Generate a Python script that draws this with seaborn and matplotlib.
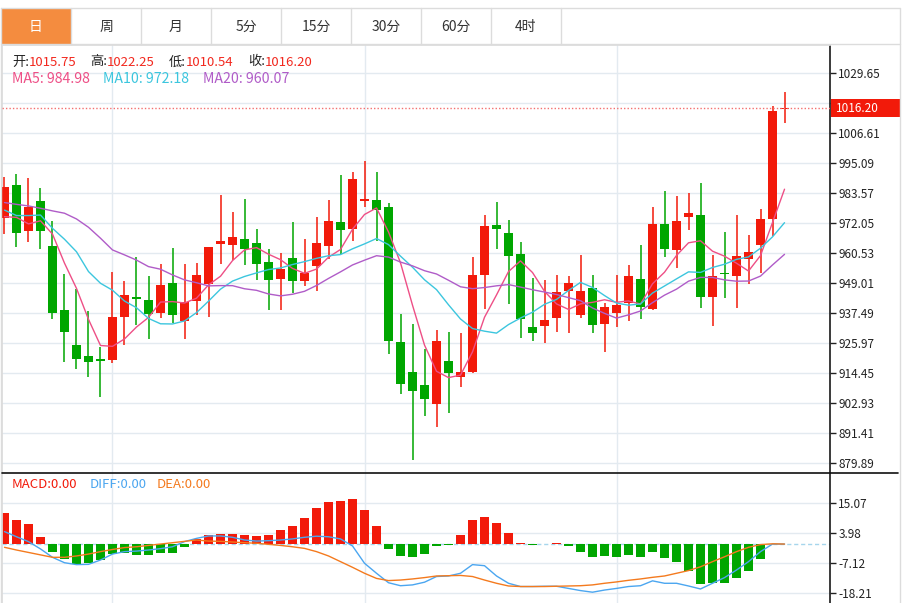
import numpy as np
import pandas as pd
import matplotlib
matplotlib.use('Agg')
import matplotlib.pyplot as plt
import matplotlib.transforms as mtransforms
from matplotlib.patches import Rectangle
import seaborn as sns

# daily candles (left -> right)
opens = [973.8, 986.8, 969.1, 980.5, 963.2, 938.5, 925.1, 921.0, 919.8, 919.4,
         936.1, 943.6, 942.4, 937.4, 949.0, 934.5, 942.2, 948.5, 964.1, 963.6,
         965.8, 964.2, 956.9, 950.7, 958.5, 949.9, 955.7, 963.3, 972.3, 969.9,
         980.6, 980.9, 978.1, 926.2, 915.0, 909.7, 902.7, 918.9, 912.8, 915.0,
         951.9, 971.1, 968.1, 960.0, 932.2, 932.5, 935.6, 945.8, 936.7, 947.0,
         933.1, 937.6, 941.2, 950.4, 939.2, 971.5, 961.7, 974.2, 975.0, 943.8,
         952.5, 951.7, 958.2, 963.7, 973.5, 1015.75]
highs = [989.6, 990.7, 989.2, 985.4, 973.0, 952.5, 946.6, 938.4, 924.3, 953.2,
         949.8, 959.0, 951.8, 956.3, 962.3, 956.3, 956.7, 963.0, 982.8, 976.4,
         981.4, 969.6, 962.1, 960.4, 972.3, 965.8, 974.5, 981.0, 990.5, 991.6,
         995.7, 991.6, 979.6, 937.2, 933.3, 923.5, 931.0, 930.3, 929.8, 958.9,
         975.1, 980.0, 973.2, 964.7, 950.8, 950.3, 952.0, 951.6, 959.8, 952.1,
         941.5, 952.1, 955.9, 963.7, 978.2, 984.3, 982.6, 983.4, 987.3, 959.8,
         968.7, 975.1, 967.4, 977.3, 1017.0, 1022.25]
lows = [967.8, 963.0, 964.6, 961.9, 935.3, 918.7, 915.9, 913.0, 905.4, 918.2,
        925.1, 932.8, 927.4, 935.4, 933.8, 927.6, 936.7, 936.1, 956.3, 957.9,
        956.0, 950.2, 938.6, 938.6, 945.3, 947.9, 946.1, 958.1, 960.0, 965.3,
        978.3, 965.3, 921.6, 906.5, 881.0, 898.1, 893.6, 899.0, 909.2, 914.6,
        939.0, 962.1, 941.0, 928.0, 926.9, 925.8, 930.3, 929.7, 935.7, 929.7,
        922.4, 932.2, 934.5, 935.1, 938.6, 959.1, 954.6, 969.4, 939.3, 932.5,
        943.1, 939.5, 948.5, 953.0, 967.1, 1010.54]
closes = [986.0, 968.3, 978.1, 969.1, 937.4, 930.2, 919.8, 918.7, 918.9, 935.8,
          944.4, 942.7, 937.1, 948.4, 936.7, 941.7, 951.9, 962.7, 965.0, 966.7,
          962.2, 956.4, 950.0, 954.5, 949.9, 952.8, 964.5, 972.8, 969.4, 988.8,
          981.1, 977.0, 926.7, 910.1, 907.5, 904.5, 926.7, 914.6, 914.8, 952.2,
          970.9, 969.6, 959.5, 935.3, 929.8, 934.8, 945.5, 948.9, 945.9, 932.8,
          939.7, 940.7, 951.5, 939.9, 971.7, 961.9, 972.9, 975.8, 943.8, 951.7,
          952.3, 959.4, 960.8, 973.5, 1015.2, 1016.20]

# moving averages at the left edge (history before the window is not shown)
ma5_head = [974.5, 974.2, 971.7, 972.9]
ma10_head = [977.0, 974.9, 974.9, 975.1, 970.0, 965.8, 961.0, 953.4, 948.9]
ma20_head = [979.9, 979.2, 978.6, 977.7, 976.7, 975.8, 973.6, 970.4, 966.2, 961.7,
             959.8, 957.8, 955.3, 954.3, 952.1, 950.2, 949.1, 947.9, 948.0]
# values printed in the header
ma_names = ['MA5', 'MA10', 'MA20']
ma_latest = [984.98, 972.18, 960.07]

# MACD panel
macd_hist = [11.6, 8.9, 7.5, 2.7, -3.05, -5.4, -7.2, -7.1, -5.9, -3.8,
             -3.2, -4.0, -4.2, -3.2, -3.4, -1.2, 1.75, 3.2, 3.85, 3.85,
             3.2, 3.0, 3.5, 5.2, 6.8, 9.8, 13.2, 15.4, 16.0, 16.5,
             12.5, 6.8, -1.7, -4.4, -4.7, -3.7, -0.7, -0.4, 3.2, 8.9,
             10.1, 7.9, 4.1, 0.25, -0.5, 0.1, 0.3, -0.8, -2.8, -4.9,
             -4.5, -4.6, -4.2, -4.8, -2.8, -5.3, -6.6, -9.95, -14.9, -14.5,
             -14.3, -12.7, -9.95, -5.4, 0.0, 0.0]
diff = [4.6, 2.7, 0.9, -1.8, -4.9, -6.9, -7.6, -7.5, -5.9, -3.7,
        -2.8, -2.6, -2.2, -1.7, -1.0, 0.9, 2.1, 3.0, 3.0, 2.5,
        1.5, 1.1, 1.25, 1.5, 1.9, 2.5, 2.9, 2.7, 1.9, -0.7,
        -7.1, -10.8, -14.3, -15.4, -15.1, -14.1, -12.0, -11.8, -10.8, -7.6,
        -8.0, -11.8, -14.5, -15.7, -15.7, -15.6, -15.6, -16.4, -17.2, -17.8,
        -17.0, -16.4, -15.7, -15.4, -13.6, -14.5, -14.5, -15.5, -16.6, -14.5,
        -12.4, -9.6, -6.5, -2.8, 0.0, 0.0]
dea = [-1.2, -2.2, -3.1, -4.0, -4.9, -4.9, -4.4, -3.7, -2.8, -2.0,
       -1.3, -1.0, -0.5, 0.0, 0.5, 1.0, 1.5, 1.1, 1.0, 0.75,
       0.5, 0.3, -0.1, -0.5, -1.0, -1.6, -2.8, -4.4, -6.5, -8.6,
       -10.8, -12.7, -13.5, -13.3, -12.9, -12.4, -11.8, -11.7, -11.6, -12.0,
       -13.3, -14.5, -15.5, -15.7, -15.7, -15.7, -15.6, -15.5, -15.4, -15.1,
       -14.5, -14.0, -13.4, -12.9, -12.3, -11.8, -10.8, -9.8, -8.4, -6.5,
       -4.7, -2.8, -1.2, -0.2, 0.1, 0.0]

price_ticks = [879.89, 891.41, 902.93, 914.45, 925.97, 937.49, 949.01, 960.53,
               972.05, 983.57, 995.09, 1006.61, 1018.13, 1029.65]
macd_ticks = [-18.21, -7.12, 3.98, 15.07]
month_marks = [9, 30, 51]
tabs = ['日', '周', '月', '5分', '15分', '30分', '60分', '4时']
last_price = 1016.20

RED = '#F21A0A'
GREEN = '#00A600'
MA5_C = '#EE4F86'
MA10_C = '#3CC6DE'
MA20_C = '#B05CC8'
DIFF_C = '#4BA6F0'
DEA_C = '#F47A1E'
GRID = '#E3EAF0'
BORDER = '#DCDCDC'
TXT = '#333333'

sns.set_theme(style='white')
plt.rcParams['font.family'] = ['Noto Sans CJK SC', 'DejaVu Sans']
plt.rcParams['axes.unicode_minus'] = False

idx = np.arange(len(closes))
s = pd.Series(closes)
ma5 = s.rolling(5).mean().values
ma10 = s.rolling(10).mean().values
ma20 = s.rolling(20).mean().values
ma5[:len(ma5_head)] = ma5_head
ma10[:len(ma10_head)] = ma10_head
ma20[:len(ma20_head)] = ma20_head

W, H = 904, 603
fig = plt.figure(figsize=(W / 100, H / 100), dpi=100)


def box(x0, y0, x1, y1):
    # pixel box (top-left origin) -> figure fraction rect
    return [x0 / W, 1 - y1 / H, (x1 - x0) / W, (y1 - y0) / H]


ax = fig.add_axes(box(2, 45, 830, 473))
axm = fig.add_axes(box(2, 473, 830, 603))
xlim = (-0.208, 68.79)

# ---- price panel ----
o = np.array(opens)
c = np.array(closes)
up = c >= o
cols = np.where(up, RED, GREEN)
body_lo = np.minimum(o, c)
body_h = np.maximum(np.abs(c - o), 0.45)

for m in month_marks:
    ax.axvline(m, color=GRID, lw=1, zorder=0)
    axm.axvline(m, color=GRID, lw=1, zorder=0)
for t in price_ticks:
    ax.axhline(t, color=GRID, lw=1, zorder=0)

ax.vlines(idx, lows, highs, colors=cols, lw=1.1, zorder=2)
ax.bar(idx, body_h, bottom=body_lo, width=0.72, color=cols, linewidth=0, zorder=3)

sns.lineplot(x=idx, y=ma5, ax=ax, color=MA5_C, linewidth=1, zorder=4)
sns.lineplot(x=idx, y=ma10, ax=ax, color=MA10_C, linewidth=1, zorder=4)
sns.lineplot(x=idx, y=ma20, ax=ax, color=MA20_C, linewidth=1, zorder=4)

ax.axhline(last_price, color='#F47070', lw=1, ls=(0, (1, 1.5)), zorder=5)

ax.set_xlim(*xlim)
ax.set_ylim(876.04, 1040.40)
ax.set_xticks([])
ax.set_yticks(price_ticks)
# the tick right behind the last-price tag is hidden in the original
ax.set_yticklabels(['' if abs(t - last_price) < 5 else f'{t:.2f}' for t in price_ticks])
ax.yaxis.tick_right()
ax.tick_params(axis='y', which='both', right=True, left=False, length=4, width=1,
               pad=2, colors='#222222', labelsize=8.5, direction='out')
ax.set_xlabel('')
ax.set_ylabel('')
for side in ['left', 'top']:
    ax.spines[side].set_color(BORDER)
ax.spines['right'].set_color('#222222')
ax.spines['bottom'].set_visible(False)

# last price tag on the axis
blend = mtransforms.blended_transform_factory(ax.transAxes, ax.transData)
ax.add_patch(Rectangle((1.001, last_price - 3.45), 0.0835, 6.9, transform=blend,
                       facecolor=RED, edgecolor='none', clip_on=False, zorder=20))
ax.text(1.0075, last_price, f'{last_price:.2f}', transform=blend, ha='left',
        va='center', color='white', fontsize=8.5, clip_on=False, zorder=21)

# ---- MACD panel ----
hist = np.array(macd_hist)
for t in macd_ticks:
    axm.axhline(t, color=GRID, lw=1, zorder=0)
axm.axhline(0, color='#A6D6EC', lw=1, ls=(0, (3, 2)), zorder=1)
axm.bar(idx, hist, width=0.72, color=np.where(hist >= 0, RED, GREEN), linewidth=0, zorder=2)
sns.lineplot(x=idx, y=diff, ax=axm, color=DIFF_C, linewidth=1, zorder=3)
sns.lineplot(x=idx, y=dea, ax=axm, color=DEA_C, linewidth=1, zorder=3)

axm.set_xlim(*xlim)
axm.set_ylim(-21.79, 26.27)
axm.set_xticks([])
axm.set_yticks(macd_ticks)
axm.set_yticklabels([f'{t:.2f}' for t in macd_ticks])
axm.yaxis.tick_right()
axm.tick_params(axis='y', right=True, left=False, length=4, width=1, pad=2,
                colors='#222222', labelsize=8.5, direction='out')
axm.set_xlabel('')
axm.set_ylabel('')
axm.spines['left'].set_color(BORDER)
axm.spines['right'].set_color('#222222')
axm.spines['top'].set_visible(False)
axm.spines['bottom'].set_visible(False)

# ---- overlay: tabs, frame, info text ----
ov = fig.add_axes([0, 0, 1, 1], zorder=10)
ov.set_xlim(0, W)
ov.set_ylim(H, 0)
ov.axis('off')
ov.patch.set_visible(False)

ov.plot([1, 900, 900], [8, 8, 603], color=BORDER, lw=1)
ov.plot([1, 1], [8, 603], color=BORDER, lw=1)
ov.plot([1, 900], [44, 44], color=BORDER, lw=1)
ov.add_patch(Rectangle((2, 9), 69, 35, facecolor='#F48C3F', edgecolor='none'))
for k, name in enumerate(tabs):
    x0 = 1 + 70 * k
    ov.plot([x0 + 70, x0 + 70], [8, 44], color=BORDER, lw=1)
    ov.text(x0 + 35, 26.5, name, ha='center', va='center', fontsize=10,
            color='white' if k == 0 else TXT)

ov.plot([2, 898], [473, 473], color='#111111', lw=1.2)

ohlc = [('开:', opens[-1], 12), ('高:', highs[-1], 90),
        ('低:', lows[-1], 169), ('收:', closes[-1], 248)]
for lab, val, x0 in ohlc:
    ov.text(x0, 62, lab, ha='left', va='center', fontsize=9.5, color='#222222')
    ov.text(x0 + 17, 62, f'{val:.2f}', ha='left', va='center', fontsize=9.5, color='#F2281E')

for lab, val, col, x0 in zip(ma_names, ma_latest, [MA5_C, MA10_C, MA20_C], [12, 103, 203]):
    ov.text(x0, 79, f'{lab}: {val:.2f}', ha='left', va='center', fontsize=10.2, color=col)

macd_lab = [('MACD', RED, 12), ('DIFF', DIFF_C, 90), ('DEA', DEA_C, 157)]
for lab, col, x0 in macd_lab:
    ov.text(x0, 485, f'{lab}:0.00', ha='left', va='center', fontsize=9.5, color=col)

fig.savefig('out.png', dpi=100)
